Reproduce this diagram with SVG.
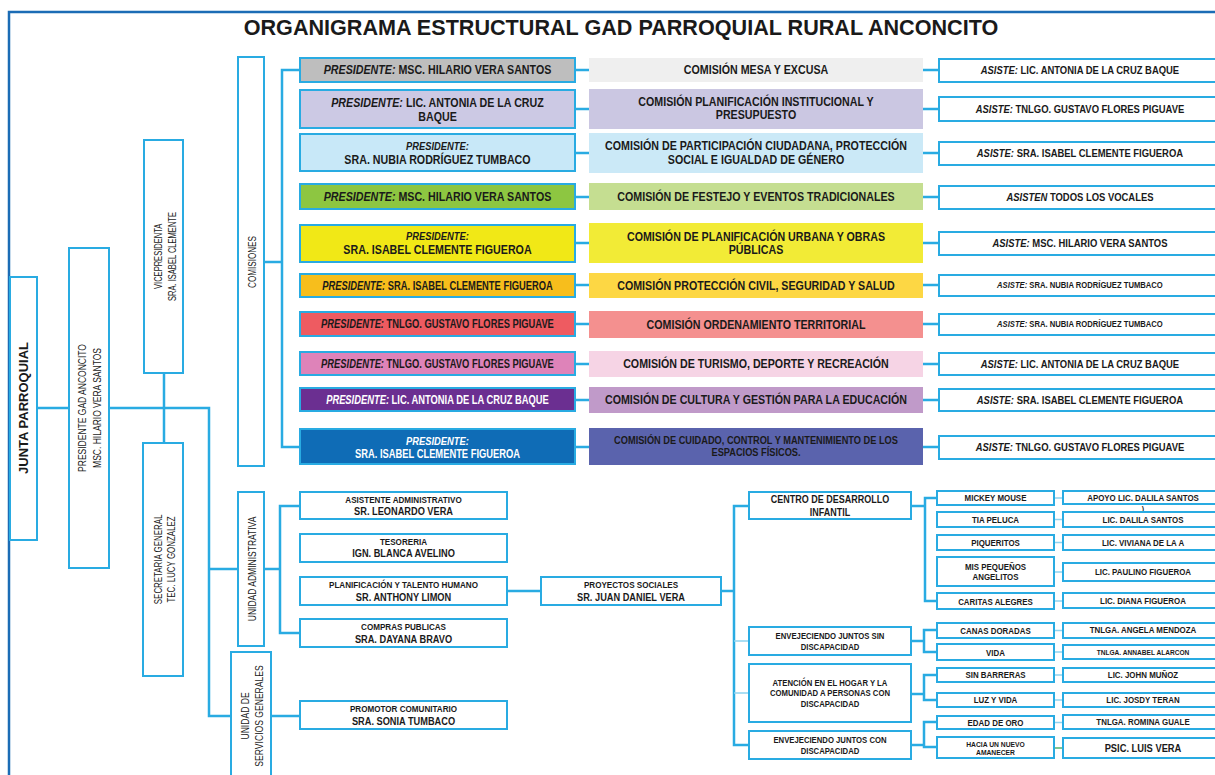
<svg xmlns="http://www.w3.org/2000/svg" width="1215" height="775" viewBox="0 0 1215 775">
<style>
.bx{fill:#fff;stroke:#29abe2;stroke-width:2}
.pb{stroke:#29abe2;stroke-width:2}
.cn{fill:none;stroke:#29abe2;stroke-width:2.5}
.ct{fill:none;stroke:#8fd3f0;stroke-width:1.3}
.t{font-family:"Liberation Sans",Arial,sans-serif;font-weight:bold;fill:#1a1a1a;text-anchor:middle}
.r{font-weight:normal}
.i{font-style:italic}
.w{fill:#fff}
.s{transform-box:fill-box;transform-origin:center}
.k72{transform:scaleX(.72)}
.k74{transform:scaleX(.74)}
.k78{transform:scaleX(.78)}
.k84{transform:scaleX(.84)}
.k86{transform:scaleX(.86)}
.k88{transform:scaleX(.88)}
.k89{transform:scaleX(.89)}
.k90{transform:scaleX(.9)}
.f12{font-size:12px}
.f105{font-size:10.5px}
.f9{font-size:9px}
.f11{font-size:11px}
</style>
<rect width="1215" height="775" fill="#fff"/>
<path d="M9,775 V12 H1215" fill="none" stroke="#1b6cb5" stroke-width="2.5"/>
<text class="t" x="621" y="35" font-size="21.6">ORGANIGRAMA ESTRUCTURAL GAD PARROQUIAL RURAL ANCONCITO</text>

<g id="connectors">
<path class="cn" d="M37,408 H69"/>
<path class="cn" d="M109,408 H209 V716 H231"/>
<path class="cn" d="M209,569 H238"/>
<path class="cn" d="M164,373 V443"/>
<path class="cn" d="M264,262 H282"/>
<path class="cn" d="M300,70 H282 V447 H300"/>
<path class="cn" d="M575,70 H589 M923,70 H939"/>
<path class="cn" d="M575,109 H589 M923,109 H939"/>
<path class="cn" d="M575,153 H589 M923,153 H939"/>
<path class="cn" d="M575,197 H589 M923,197 H939"/>
<path class="cn" d="M575,243 H589 M923,243 H939"/>
<path class="cn" d="M575,285 H589 M923,285 H939"/>
<path class="cn" d="M575,324 H589 M923,324 H939"/>
<path class="cn" d="M575,364 H589 M923,364 H939"/>
<path class="cn" d="M575,400 H589 M923,400 H939"/>
<path class="cn" d="M575,447 H589 M923,447 H939"/>
<path class="cn" d="M264,569 H280"/>
<path class="cn" d="M300,506 H280 V633 H300"/>
<path class="cn" d="M271,716 H300"/>
<path class="cn" d="M507,591 H541"/>
<path class="cn" d="M721,591 H734"/>
<path class="cn" d="M749,506 H734 V745 H749"/>
<path class="ct" d="M734,641 H749 M734,693 H749"/>
<path class="cn" d="M911,506 H925"/>
<path class="cn" d="M937,498 H925 V601 H937"/>
<path class="cn" d="M911,641 H924"/>
<path class="cn" d="M937,630 H924 V652 H937"/>
<path class="cn" d="M911,694 H924"/>
<path class="cn" d="M937,675 H924 V700 H937"/>
<path class="cn" d="M911,745 H924"/>
<path class="cn" d="M937,722 H924 V747 H937"/>
<path class="ct" d="M1054,498 H1063 M1054,519.5 H1063 M1054,542.5 H1063 M1054,572 H1063 M1054,601 H1063 M1054,630.5 H1063 M1054,652 H1063 M1054,675 H1063 M1054,700 H1063 M1054,722.5 H1063"/>
<path d="M1054,748 H1063" stroke="#3aa655" stroke-width="1.3"/>
</g>

<g id="junta"><rect class="bx" x="10" y="277" width="27" height="263"/>
<g transform="translate(23.5,408) rotate(-90)"><text class="t" x="0" y="4.6" font-size="13">JUNTA PARROQUIAL</text></g></g>
<g id="presidente"><rect class="bx" x="69" y="248" width="40" height="320"/>
<g transform="translate(89,408) rotate(-90)"><text class="t r s k74" font-size="11.5" x="0" y="-2.9">PRESIDENTE GAD ANCONCITO</text><text class="t r s k74" font-size="11.5" x="0" y="12.1">MSC. HILARIO VERA SANTOS</text></g></g>
<g id="vicepresidenta"><rect class="bx" x="144" y="140" width="39" height="233"/>
<g transform="translate(163.5,256.5) rotate(-90)"><text class="t r s k72" font-size="10.5" x="0" y="-1.2">VICEPRESIDENTA</text><text class="t r s k72" font-size="10.5" x="0" y="12.2">SRA. ISABEL CLEMENTE</text></g></g>
<g id="secretaria"><rect class="bx" x="143" y="443" width="40" height="233"/>
<g transform="translate(163,559.5) rotate(-90)"><text class="t r s k72" font-size="11" x="0" y="-1">SECRETARIA GENERAL</text><text class="t r s k72" font-size="11" x="0" y="12.3">TEC. LUCY GONZALEZ</text></g></g>
<g id="comisiones"><rect class="bx" x="238" y="57" width="26" height="409"/>
<g transform="translate(251,262) rotate(-90)"><text class="t r s k74" font-size="11" x="0" y="4.6">COMISIONES</text></g></g>
<g id="unidad-administrativa"><rect class="bx" x="238" y="492" width="26" height="154"/>
<g transform="translate(251,569) rotate(-90)"><text class="t r s k74" font-size="11.5" x="0" y="4.8">UNIDAD ADMINISTRATIVA</text></g></g>
<g id="unidad-servicios"><rect class="bx" x="231" y="652" width="40" height="135"/>
<g transform="translate(251,716) rotate(-90)"><text class="t r s k78" font-size="11" x="0" y="-2">UNIDAD DE</text><text class="t r s k78" font-size="11" x="0" y="12">SERVICIOS GENERALES</text></g></g>

<g id="row1">
<rect class="pb" x="300" y="58" width="275" height="24" fill="#bebebe"/>
<text class="t s k89 f12" x="437.5" y="74.3"><tspan class="i">PRESIDENTE:</tspan> MSC. HILARIO VERA SANTOS</text>
<rect x="589" y="58" width="334" height="24" fill="#efefef"/>
<text class="t s k89 f12" x="756" y="74.3">COMISIÓN MESA Y EXCUSA</text>
<rect class="bx" x="939" y="59" width="280" height="23"/>
<text class="t s k90 f105" x="1080" y="74.3"><tspan class="i">ASISTE:</tspan> LIC. ANTONIA DE LA CRUZ BAQUE</text>
</g>
<g id="row2">
<rect class="pb" x="300" y="90" width="275" height="38" fill="#ccc9e4"/>
<text class="t s k89 f12" x="437.5" y="107"><tspan class="i">PRESIDENTE:</tspan> LIC. ANTONIA DE LA CRUZ</text>
<text class="t s k89 f12" x="437.5" y="121">BAQUE</text>
<rect x="589" y="89" width="334" height="40" fill="#cbc7e2"/>
<text class="t s k89 f12" x="756" y="106">COMISIÓN PLANIFICACIÓN INSTITUCIONAL Y</text>
<text class="t s k89 f12" x="756" y="119.5">PRESUPUESTO</text>
<rect class="bx" x="939" y="97" width="280" height="24"/>
<text class="t s k90 f105" x="1080" y="112.8"><tspan class="i">ASISTE:</tspan> TNLGO. GUSTAVO FLORES PIGUAVE</text>
</g>
<g id="row3">
<rect class="pb" x="300" y="134" width="275" height="37" fill="#c8e8f8"/>
<text class="t s k89 i f105" x="437.5" y="149.8">PRESIDENTE:</text>
<text class="t s k89 f12" x="437.5" y="163.6">SRA. NUBIA RODRÍGUEZ TUMBACO</text>
<rect x="589" y="133" width="334" height="40" fill="#cbe9f7"/>
<text class="t s k89 f12" x="756" y="150.3">COMISIÓN DE PARTICIPACIÓN CIUDADANA, PROTECCIÓN</text>
<text class="t s k89 f12" x="756" y="164.3">SOCIAL E IGUALDAD DE GÉNERO</text>
<rect class="bx" x="939" y="142" width="280" height="23"/>
<text class="t s k90 f105" x="1080" y="157.3"><tspan class="i">ASISTE:</tspan> SRA. ISABEL CLEMENTE FIGUEROA</text>
</g>
<g id="row4">
<rect class="pb" x="300" y="184" width="275" height="25" fill="#8dc641"/>
<text class="t s k89 f12" x="437.5" y="200.8"><tspan class="i">PRESIDENTE:</tspan> MSC. HILARIO VERA SANTOS</text>
<rect x="589" y="183" width="334" height="27" fill="#c5de91"/>
<text class="t s k89 f12" x="756" y="200.8">COMISIÓN DE FESTEJO Y EVENTOS TRADICIONALES</text>
<rect class="bx" x="939" y="186" width="280" height="23"/>
<text class="t s k90 f105" x="1080" y="201.3"><tspan class="i">ASISTEN</tspan> TODOS LOS VOCALES</text>
</g>
<g id="row5">
<rect class="pb" x="300" y="225" width="275" height="37" fill="#f1e816"/>
<text class="t s k89 i f105" x="437.5" y="239.8">PRESIDENTE:</text>
<text class="t s k89 f12" x="437.5" y="254.3">SRA. ISABEL CLEMENTE FIGUEROA</text>
<rect x="589" y="223" width="334" height="40" fill="#f2eb36"/>
<text class="t s k89 f12" x="756" y="241">COMISIÓN DE PLANIFICACIÓN URBANA Y OBRAS</text>
<text class="t s k89 f12" x="756" y="254.5">PÚBLICAS</text>
<rect class="bx" x="939" y="232" width="280" height="23"/>
<text class="t s k90 f105" x="1080" y="247.3"><tspan class="i">ASISTE:</tspan> MSC. HILARIO VERA SANTOS</text>
</g>
<g id="row6">
<rect class="pb" x="300" y="274" width="275" height="23" fill="#f7be1c"/>
<text class="t s k78 f12" x="437.5" y="289.8"><tspan class="i">PRESIDENTE:</tspan> SRA. ISABEL CLEMENTE FIGUEROA</text>
<rect x="589" y="273" width="334" height="25" fill="#fdd744"/>
<text class="t s k89 f12" x="756" y="289.8">COMISIÓN PROTECCIÓN CIVIL, SEGURIDAD Y SALUD</text>
<rect class="bx" x="939" y="275" width="280" height="21"/>
<text class="t s k90" font-size="8.5" x="1080" y="288.5"><tspan class="i">ASISTE:</tspan> SRA. NUBIA RODRÍGUEZ TUMBACO</text>
</g>
<g id="row7">
<rect class="pb" x="300" y="312" width="275" height="24" fill="#ee5b61"/>
<text class="t s k78 f12" x="437.5" y="328.3"><tspan class="i">PRESIDENTE:</tspan> TNLGO. GUSTAVO FLORES PIGUAVE</text>
<rect x="589" y="311" width="334" height="27" fill="#f4908f"/>
<text class="t s k89 f12" x="756" y="328.8">COMISIÓN ORDENAMIENTO TERRITORIAL</text>
<rect class="bx" x="939" y="314" width="280" height="21"/>
<text class="t s k90" font-size="8.5" x="1080" y="327.5"><tspan class="i">ASISTE:</tspan> SRA. NUBIA RODRÍGUEZ TUMBACO</text>
</g>
<g id="row8">
<rect class="pb" x="300" y="352" width="275" height="23" fill="#de83b9"/>
<text class="t s k78 f12" x="437.5" y="367.8"><tspan class="i">PRESIDENTE:</tspan> TNLGO. GUSTAVO FLORES PIGUAVE</text>
<rect x="589" y="351" width="334" height="26" fill="#f6d4e5"/>
<text class="t s k89 f12" x="756" y="368.3">COMISIÓN DE TURISMO, DEPORTE Y RECREACIÓN</text>
<rect class="bx" x="939" y="353" width="280" height="22"/>
<text class="t s k90 f105" x="1080" y="367.8"><tspan class="i">ASISTE:</tspan> LIC. ANTONIA DE LA CRUZ BAQUE</text>
</g>
<g id="row9">
<rect class="pb" x="300" y="388" width="275" height="23" fill="#6b2f91"/>
<text class="t s k78 f12 w" x="437.5" y="403.8"><tspan class="i">PRESIDENTE:</tspan> LIC. ANTONIA DE LA CRUZ BAQUE</text>
<rect x="589" y="387" width="334" height="26" fill="#c09ac9"/>
<text class="t s k89 f12" x="756" y="404.3">COMISIÓN DE CULTURA Y GESTIÓN PARA LA EDUCACIÓN</text>
<rect class="bx" x="939" y="389" width="280" height="22"/>
<text class="t s k90 f105" x="1080" y="403.8"><tspan class="i">ASISTE:</tspan> SRA. ISABEL CLEMENTE FIGUEROA</text>
</g>
<g id="row10">
<rect class="pb" x="300" y="429" width="275" height="35" fill="#0f6cb6"/>
<text class="t s k89 i f105 w" x="437.5" y="445.5">PRESIDENTE:</text>
<text class="t s k78 f12 w" x="437.5" y="458">SRA. ISABEL CLEMENTE FIGUEROA</text>
<rect x="589" y="428" width="334" height="37" fill="#5a63ad"/>
<text class="t s k88 f105" x="756" y="444.5">COMISIÓN DE CUIDADO, CONTROL Y MANTENIMIENTO DE LOS</text>
<text class="t s k88 f105" x="756" y="456.5">ESPACIOS FÍSICOS.</text>
<rect class="bx" x="939" y="436" width="280" height="23"/>
<text class="t s k90 f105" x="1080" y="451.3"><tspan class="i">ASISTE:</tspan> TNLGO. GUSTAVO FLORES PIGUAVE</text>
</g>

<g id="asistente-adm"><rect class="bx" x="300" y="492" width="207" height="27"/>
<text class="t s k90 f9" x="403.5" y="503.2">ASISTENTE ADMINISTRATIVO</text><text class="t s k84 f11" x="403.5" y="515.2">SR. LEONARDO VERA</text></g>
<g id="tesoreria"><rect class="bx" x="300" y="534" width="207" height="28"/>
<text class="t s k90 f9" x="403.5" y="545.3">TESORERIA</text><text class="t s k84 f11" x="403.5" y="557.3">IGN. BLANCA AVELINO</text></g>
<g id="planificacion"><rect class="bx" x="300" y="577" width="207" height="28"/>
<text class="t s k90 f9" x="403.5" y="588.3">PLANIFICACIÓN Y TALENTO HUMANO</text><text class="t s k84 f11" x="403.5" y="601">SR. ANTHONY LIMON</text></g>
<g id="compras"><rect class="bx" x="300" y="619" width="207" height="28"/>
<text class="t s k90 f9" x="403.5" y="630.3">COMPRAS PUBLICAS</text><text class="t s k84 f11" x="403.5" y="642.7">SRA. DAYANA BRAVO</text></g>
<g id="promotor"><rect class="bx" x="300" y="701" width="207" height="28"/>
<text class="t s k90 f9" x="403.5" y="712.3">PROMOTOR COMUNITARIO</text><text class="t s k84 f11" x="403.5" y="724.7">SRA. SONIA TUMBACO</text></g>
<g id="proyectos"><rect class="bx" x="541" y="577" width="180" height="28"/>
<text class="t s k90 f9" x="631" y="588.3">PROYECTOS SOCIALES</text><text class="t s k84 f11" x="631" y="601">SR. JUAN DANIEL VERA</text></g>

<g id="centro"><rect class="bx" x="749" y="492" width="162" height="27"/>
<text class="t s k90" font-size="10" x="830" y="503.4">CENTRO DE DESARROLLO</text><text class="t s k90" font-size="10" x="830" y="515.7">INFANTIL</text></g>
<g id="env-sin"><rect class="bx" x="749" y="627" width="162" height="28"/>
<text class="t s k86 f9" x="830" y="639.3">ENVEJECIENDO JUNTOS SIN</text><text class="t s k86 f9" x="830" y="650.3">DISCAPACIDAD</text></g>
<g id="atencion"><rect class="bx" x="749" y="664" width="162" height="58"/>
<text class="t s k86 f9" x="830" y="685.6">ATENCIÓN EN EL HOGAR Y LA</text><text class="t s k86 f9" x="830" y="696">COMUNIDAD A PERSONAS CON</text><text class="t s k86 f9" x="830" y="706.6">DISCAPACIDAD</text></g>
<g id="env-con"><rect class="bx" x="749" y="731" width="162" height="28"/>
<text class="t s k86 f9" x="830" y="743.3">ENVEJECIENDO JUNTOS CON</text><text class="t s k86 f9" x="830" y="754">DISCAPACIDAD</text></g>

<g id="mickey"><rect class="bx" x="937" y="491" width="117" height="14"/><text class="t s k88 f9" x="995.5" y="501.2">MICKEY MOUSE</text></g>
<g id="tia"><rect class="bx" x="937" y="512" width="117" height="15"/><text class="t s k88 f9" x="995.5" y="523">TIA PELUCA</text></g>
<g id="piqueritos"><rect class="bx" x="937" y="535" width="117" height="15"/><text class="t s k88 f9" x="995.5" y="545.6">PIQUERITOS</text></g>
<g id="mis-pequenos"><rect class="bx" x="937" y="557" width="117" height="29"/><text class="t s k88 f9" x="995.5" y="570">MIS PEQUEÑOS</text><text class="t s k88 f9" x="995.5" y="580.3">ANGELITOS</text></g>
<g id="caritas"><rect class="bx" x="937" y="593" width="117" height="16"/><text class="t s k88 f9" x="995.5" y="605">CARITAS ALEGRES</text></g>
<g id="canas"><rect class="bx" x="937" y="623" width="117" height="15"/><text class="t s k88 f9" x="995.5" y="634">CANAS DORADAS</text></g>
<g id="vida"><rect class="bx" x="937" y="644" width="117" height="16"/><text class="t s k88 f9" x="995.5" y="656.5">VIDA</text></g>
<g id="sin-barreras"><rect class="bx" x="937" y="668" width="117" height="14"/><text class="t s k88 f9" x="995.5" y="678.3">SIN BARRERAS</text></g>
<g id="luz-vida"><rect class="bx" x="937" y="693" width="117" height="14"/><text class="t s k88 f9" x="995.5" y="703.3">LUZ Y VIDA</text></g>
<g id="edad-oro"><rect class="bx" x="937" y="716" width="117" height="13"/><text class="t s k88 f9" x="995.5" y="726">EDAD DE ORO</text></g>
<g id="hacia"><rect class="bx" x="937" y="737" width="117" height="21"/><text class="t s k90" font-size="7.5" x="995.5" y="747.5">HACIA UN NUEVO</text><text class="t s k90" font-size="7.5" x="995.5" y="755.3">AMANECER</text></g>

<g id="apoyo"><rect class="bx" x="1063" y="491" width="160" height="13"/><text class="t s k88 f9" x="1143" y="500.6">APOYO LIC. DALILA SANTOS</text><text class="t" font-size="7" x="1143" y="510.5">)</text></g>
<g id="dalila"><rect class="bx" x="1063" y="512" width="160" height="15"/><text class="t s k88 f9" x="1143" y="523.2">LIC. DALILA SANTOS</text></g>
<g id="viviana"><rect class="bx" x="1063" y="535" width="160" height="15"/><text class="t s k88 f9" x="1143" y="545.6">LIC. VIVIANA DE LA A</text></g>
<g id="paulino"><rect class="bx" x="1063" y="563" width="160" height="18"/><text class="t s k88 f9" x="1143" y="575">LIC. PAULINO FIGUEROA</text></g>
<g id="diana"><rect class="bx" x="1063" y="593" width="160" height="15"/><text class="t s k88 f9" x="1143" y="604">LIC. DIANA FIGUEROA</text></g>
<g id="angela"><rect class="bx" x="1063" y="623" width="160" height="15"/><text class="t s k88 f9" x="1143" y="633.5">TNLGA. ANGELA MENDOZA</text></g>
<g id="annabel"><rect class="bx" x="1063" y="645" width="160" height="14"/><text class="t s k88" font-size="7.5" x="1143" y="654.8">TNLGA. ANNABEL ALARCON</text></g>
<g id="john"><rect class="bx" x="1063" y="668" width="160" height="14"/><text class="t s k88 f9" x="1143" y="677.8">LIC. JOHN MUÑOZ</text></g>
<g id="josdy"><rect class="bx" x="1063" y="693" width="160" height="14"/><text class="t s k88 f9" x="1143" y="703.3">LIC. JOSDY TERAN</text></g>
<g id="romina"><rect class="bx" x="1063" y="715" width="160" height="14"/><text class="t s k88 f9" x="1143" y="725">TNLGA. ROMINA GUALE</text></g>
<g id="psic"><rect class="bx" x="1063" y="738" width="160" height="20"/><text class="t s k89 f105" x="1143" y="751.8">PSIC. LUIS VERA</text></g>
</svg>
